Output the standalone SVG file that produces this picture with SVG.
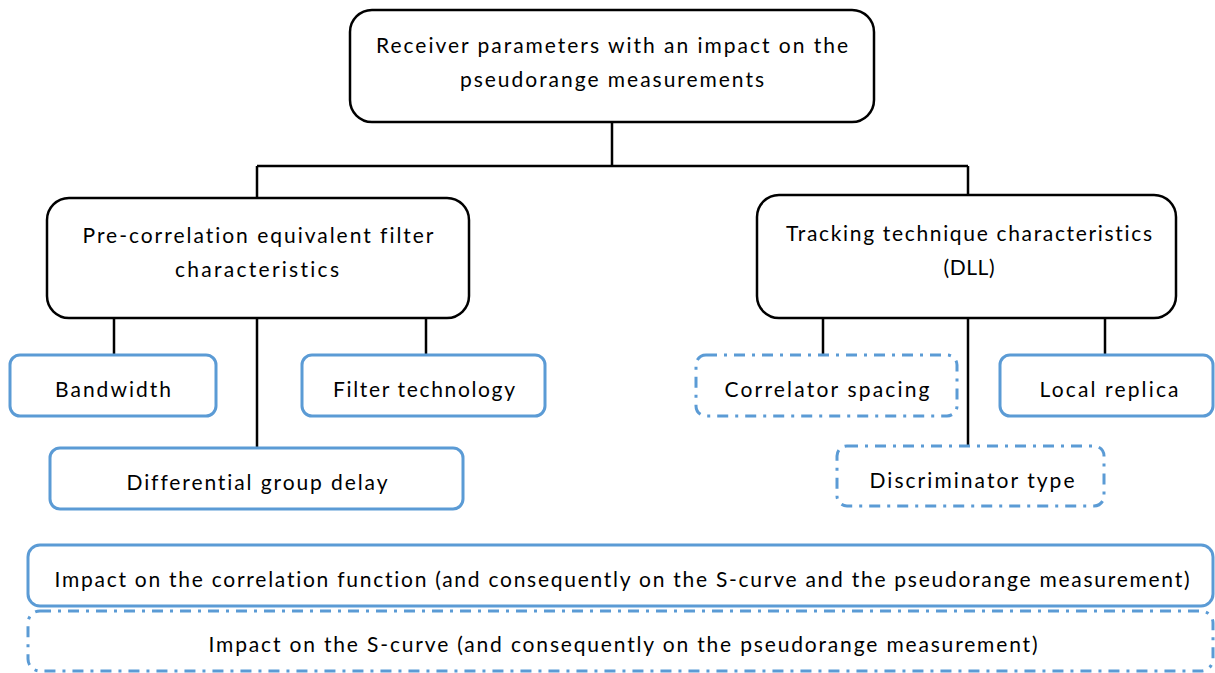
<svg xmlns="http://www.w3.org/2000/svg" width="1215" height="673" viewBox="0 0 1215 673">
<style>
.t{font-family:Lato,"Open Sans","Liberation Sans",sans-serif;font-size:21px;fill:#000;text-anchor:middle;font-variant-ligatures:none}
.main{fill:#fff;stroke:#000;stroke-width:2.5}
.sol{fill:#fff;stroke:#5B9BD5;stroke-width:3}
.dd{fill:#fff;stroke:#5B9BD5;stroke-width:3;stroke-dasharray:11 7 3 7}
.c{stroke:#000;stroke-width:2.5;fill:none}
</style>
<rect width="1215" height="673" fill="#fff"/>
<g id="connectors">
<path class="c" d="M612 122V166M257 166H968M257 166V198M968 166V195"/>
<path class="c" d="M114 318V355M426 318V355M257 318V448"/>
<path class="c" d="M823 318V355M1105 318V355M968 318V446"/>
</g>
<g id="root"><rect class="main" x="350" y="10" width="524" height="112" rx="22"/>
<text class="t" x="612" y="53" textLength="472" lengthAdjust="spacing">Receiver parameters with an impact on the</text>
<text class="t" x="612" y="87" textLength="304" lengthAdjust="spacing">pseudorange measurements</text></g>
<g id="prefilter"><rect class="main" x="47" y="198" width="422" height="120" rx="22"/>
<text class="t" x="258" y="243" textLength="351" lengthAdjust="spacing">Pre-correlation equivalent filter</text>
<text class="t" x="257" y="277" textLength="164" lengthAdjust="spacing">characteristics</text></g>
<g id="tracking"><rect class="main" x="757" y="195" width="419" height="123" rx="22"/>
<text class="t" x="969" y="241" textLength="366" lengthAdjust="spacing">Tracking technique characteristics</text>
<text class="t" x="969" y="275" textLength="51" lengthAdjust="spacing">(DLL)</text></g>
<g id="bandwidth"><rect class="sol" x="10" y="355" width="206" height="61" rx="10"/>
<text class="t" x="113" y="397" textLength="116" lengthAdjust="spacing">Bandwidth</text></g>
<g id="filtertech"><rect class="sol" x="302" y="355" width="243" height="61" rx="10"/>
<text class="t" x="424" y="397" textLength="182" lengthAdjust="spacing">Filter technology</text></g>
<g id="dgd"><rect class="sol" x="50" y="448" width="413" height="61" rx="10"/>
<text class="t" x="257" y="490" textLength="261" lengthAdjust="spacing">Differential group delay</text></g>
<g id="corrspacing"><rect class="dd" x="696" y="355" width="261" height="61" rx="10"/>
<text class="t" x="827" y="397" textLength="205" lengthAdjust="spacing">Correlator spacing</text></g>
<g id="localreplica"><rect class="sol" x="1000" y="355" width="213" height="61" rx="10"/>
<text class="t" x="1109" y="397" textLength="139" lengthAdjust="spacing">Local replica</text></g>
<g id="discriminator"><rect class="dd" x="837" y="446" width="267" height="60" rx="10"/>
<text class="t" x="972" y="488" textLength="205" lengthAdjust="spacing">Discriminator type</text></g>
<g id="legend-corr"><rect class="sol" x="28" y="545" width="1185" height="61" rx="12"/>
<text class="t" x="622" y="587" textLength="1135" lengthAdjust="spacing">Impact on the correlation function (and consequently on the S-curve and the pseudorange measurement)</text></g>
<g id="legend-scurve"><rect class="dd" x="28" y="611" width="1185" height="60" rx="12"/>
<text class="t" x="623" y="652" textLength="829" lengthAdjust="spacing">Impact on the S-curve (and consequently on the pseudorange measurement)</text></g>
</svg>
